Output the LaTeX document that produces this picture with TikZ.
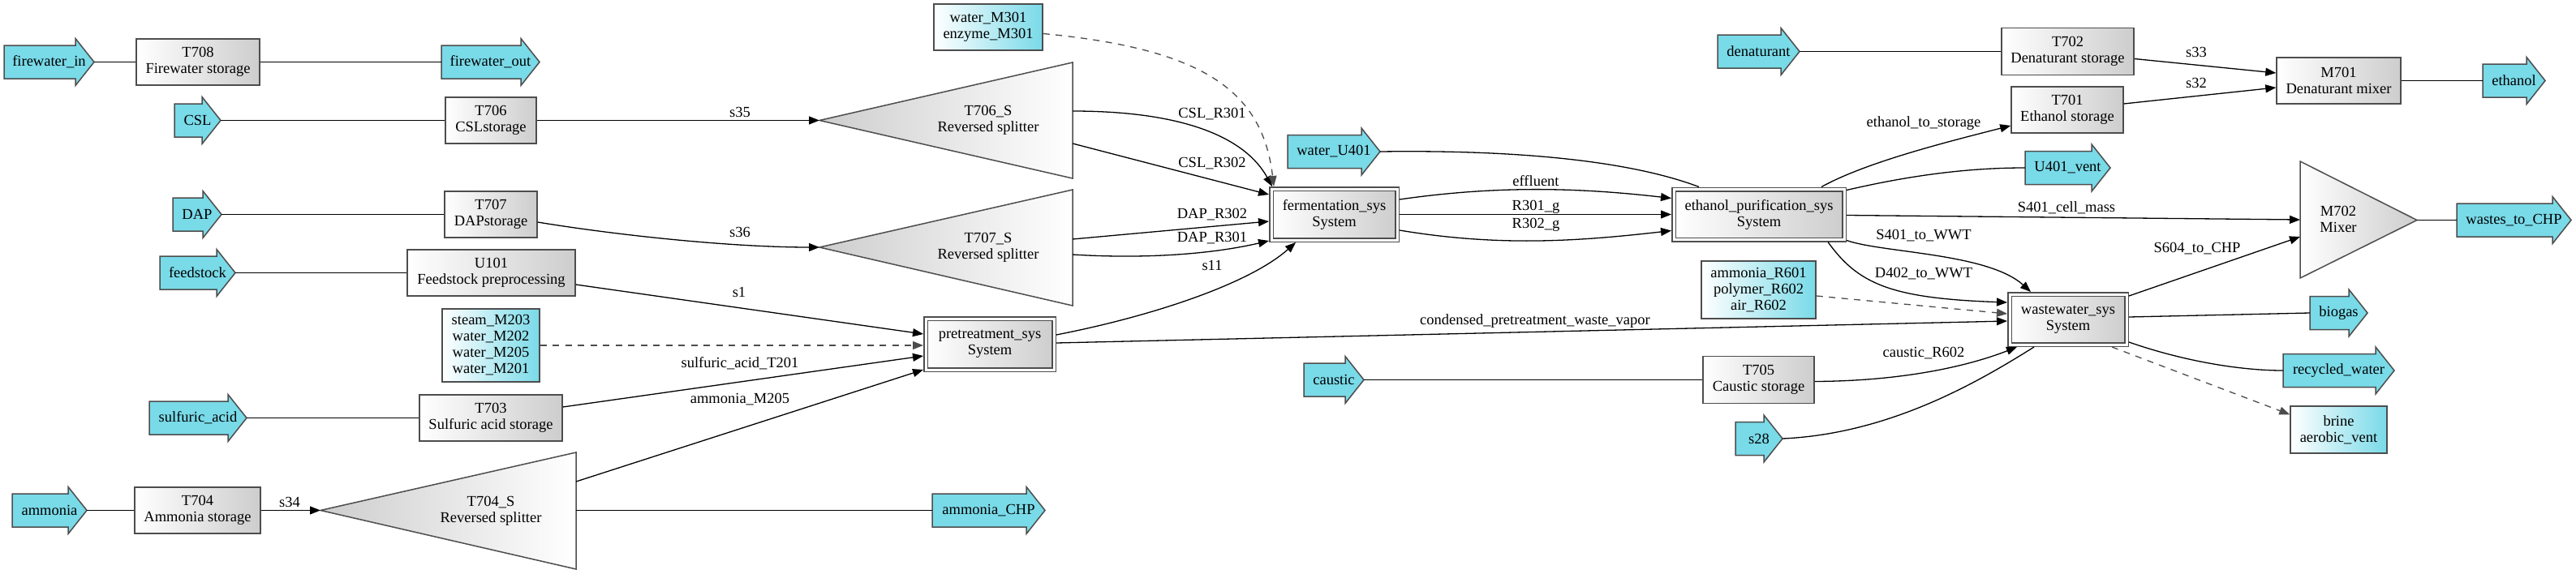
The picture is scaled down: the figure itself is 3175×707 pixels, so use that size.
\documentclass[tikz,border=0pt]{standalone}
\usepackage{fontspec}
\setmainfont{Liberation Serif}
\usetikzlibrary{arrows.meta,calc}
\definecolor{ugray}{HTML}{CDCDCD}
\definecolor{scyan}{HTML}{79DAE8}
\definecolor{bord}{HTML}{4D4D4D}
\newcommand\fsz{\fontsize{18.5pt}{20pt}\selectfont}
% name, x-left, x-tip, y-center, text
\newcommand\feedarr[5]{%
  \draw[arrsty] (#2,#4-20.5) -- ({#3-23},#4-20.5) -- ({#3-23},#4-29) -- (#3,#4)
    -- ({#3-23},#4+29) -- ({#3-23},#4+20.5) -- (#2,#4+20.5) -- cycle;
  \node[lbl, inner sep=0pt, minimum width={(#3-(#2))*1pt}, minimum height=41pt] (#1) at ({(#2+#3)/2},#4) {#5};
}
\begin{document}
\begin{tikzpicture}[x=1pt,y=-1pt,
  lbl/.style={font=\fsz, align=center, inner sep=1pt},
  unit/.style={rectangle, draw=bord, line width=1.5pt, left color=white, right color=ugray, align=center, inner sep=0pt, font=\fsz, minimum height=57pt},
  sysbox/.style={rectangle, draw=bord, line width=1.5pt, double=white, double distance=3pt, left color=white, right color=ugray, align=center, inner sep=0pt, font=\fsz, outer sep=3pt},
  cbox/.style={rectangle, draw=bord, line width=1.5pt, left color=white, right color=scyan, align=center, inner sep=0pt, font=\fsz},
  arrsty/.style={draw=bord, line width=1.5pt, fill=scyan, line join=miter},
  tri/.style={draw=bord, line width=1.5pt},
  flow/.style={line width=1.3pt, draw=black},
  ahead/.style={-{Triangle[length=13pt,width=10pt]}},
  dsh/.style={dash pattern=on 8pt off 7.5pt, draw=black!70},
]
\useasboundingbox[fill=white] (0,0) rectangle (3175,707);

% ---------- feed / product arrows ----------
\feedarr{fwin}{5}{116}{76.5}{firewater\_in}
\feedarr{fwout}{544}{665}{76.5}{firewater\_out}
\feedarr{csl}{215}{272}{148.5}{CSL}
\feedarr{dap}{213}{273}{264.5}{DAP}
\feedarr{feed}{197}{290}{336.5}{feedstock}
\feedarr{sulf}{184}{304}{515.5}{sulfuric\_acid}
\feedarr{amm}{15}{107}{629.5}{ammonia}
\feedarr{ammchp}{1149}{1288}{629.5}{ammonia\_CHP}
\feedarr{wu401}{1587}{1701}{187}{water\_U401}
\feedarr{denat}{2117}{2218}{63.5}{denaturant}
\feedarr{caustic}{1607}{1681}{468.5}{caustic}
\feedarr{s28}{2139}{2197}{541}{s28}
\feedarr{u401v}{2496}{2601}{207}{U401\_vent}
\feedarr{ethanol}{3060}{3137}{99.5}{ethanol}
\feedarr{wtc}{3028}{3169}{271.5}{wastes\_to\_CHP}
\feedarr{biogas}{2847}{2918}{386}{biogas}
\feedarr{recw}{2814}{2951}{457}{recycled\_water}

% ---------- unit boxes ----------
\node[unit, minimum width=152pt] (T708) at (244,76.5) {T708\\Firewater storage};
\node[unit, minimum width=112pt] (T706) at (605,148.5) {T706\\CSLstorage};
\node[unit, minimum width=114pt] (T707) at (605,264.5) {T707\\DAPstorage};
\node[unit, minimum width=207pt] (U101) at (605.5,336.5) {U101\\Feedstock preprocessing};
\node[unit, minimum width=176pt] (T703) at (605,515.5) {T703\\Sulfuric acid storage};
\node[unit, minimum width=155pt] (T704) at (243.5,629.5) {T704\\Ammonia storage};
\node[unit, minimum width=163pt, minimum height=58pt] (T702) at (2548.5,63.5) {T702\\Denaturant storage};
\node[unit, minimum width=138pt] (T701) at (2548,135.5) {T701\\Ethanol storage};
\node[unit, minimum width=153pt] (M701) at (2882.5,99.5) {M701\\Denaturant mixer};
\node[unit, minimum width=137pt, minimum height=58pt] (T705) at (2167.5,468.5) {T705\\Caustic storage};

% ---------- cyan stream boxes ----------
\node[cbox, minimum width=120pt, minimum height=90pt] (steam) at (605,426) {steam\_M203\\water\_M202\\water\_M205\\water\_M201};
\node[cbox, minimum width=134pt, minimum height=57pt] (wm301) at (1218,33.5) {water\_M301\\enzyme\_M301};
\node[cbox, minimum width=141pt, minimum height=71pt] (ar601) at (2167.5,357.5) {ammonia\_R601\\polymer\_R602\\air\_R602};
\node[cbox, minimum width=119pt, minimum height=58pt] (brine) at (2882.5,530) {brine\\aerobic\_vent};

% ---------- systems ----------
\node[sysbox, minimum width=158pt, minimum height=63pt] (pretreat) at (1220,424.5) {pretreatment\_sys\\System};
\node[sysbox, minimum width=155pt, minimum height=63pt] (ferm) at (1644.5,264.5) {fermentation\_sys\\System};
\node[sysbox, minimum width=210pt, minimum height=62pt] (ethpur) at (2168,264.5) {ethanol\_purification\_sys\\System};
\node[sysbox, minimum width=144pt, minimum height=62pt] (wwt) at (2549,394) {wastewater\_sys\\System};

% ---------- triangles ----------
\draw[tri, left color=ugray, right color=white] (1010,148.5) -- (1322,77) -- (1322,220) -- cycle;
\node[lbl] (t706s) at (1218,148) {T706\_S\\Reversed splitter};
\coordinate (t706s-in) at (1010,148.5);
\coordinate (t706s-o1) at (1322,137);
\coordinate (t706s-o2) at (1322,177);

\draw[tri, left color=ugray, right color=white] (1010,305) -- (1322,234) -- (1322,377) -- cycle;
\node[lbl] (t707s) at (1218,305) {T707\_S\\Reversed splitter};
\coordinate (t707s-in) at (1010,305);
\coordinate (t707s-o1) at (1322,295);
\coordinate (t707s-o2) at (1322,314);

\draw[tri, left color=ugray, right color=white] (395,629.5) -- (710,558) -- (710,702) -- cycle;
\node[lbl] (t704s) at (605,630) {T704\_S\\Reversed splitter};
\coordinate (t704s-in) at (395,629.5);
\coordinate (t704s-o1) at (710,594);
\coordinate (t704s-o2) at (710,629.5);

\draw[tri, left color=white, right color=ugray] (2835,199) -- (2979,271.5) -- (2835,343) -- cycle;
\node[lbl] (m702) at (2882,270) {M702\\Mixer};
\coordinate (m702-i1) at (2835,271);
\coordinate (m702-i2) at (2835,292);
\coordinate (m702-out) at (2979,271.5);

% ---------- connectors ----------
\draw[flow] (fwin.east) -- (T708.west);
\draw[flow] (T708.east) -- (fwout.west);
\draw[flow] (csl.east) -- (T706.west);
\draw[flow,ahead] (T706.east) -- (t706s-in);
\draw[flow] (dap.east) -- (T707.west);
\draw[flow,ahead] ($(T707.east)+(0,9.5)$) .. controls (760,290) and (900,305) .. (t707s-in);
\draw[flow] (feed.east) -- (U101.west);
\draw[flow,ahead] ($(U101.east)+(0,14.5)$) -- ($(pretreat.west)+(0,-12.5)$);
\draw[flow,dsh,ahead] (steam.east) -- ($(pretreat.west)+(0,1.5)$);
\draw[flow] (sulf.east) -- (T703.west);
\draw[flow,ahead] ($(T703.east)+(0,-13.5)$) -- ($(pretreat.west)+(0,14.5)$);
\draw[flow] (amm.east) -- (T704.west);
\draw[flow,ahead] (T704.east) -- (t704s-in);
\draw[flow,ahead] (t704s-o1) -- ($(pretreat.south west)+(0,-3)$);
\draw[flow] (t704s-o2) -- (ammchp.west);

\draw[flow,ahead] (t706s-o1) .. controls (1460,137) and (1535,170) .. ($(ferm.north west)+(4,0)$);
\draw[flow,ahead] (t706s-o2) -- ($(ferm.west)+(0,-24.5)$);
\draw[flow,ahead] (t707s-o1) -- ($(ferm.west)+(0,8.5)$);
\draw[flow,ahead] (t707s-o2) .. controls (1420,320) and (1500,312) .. ($(ferm.south west)+(0,-2)$);
\draw[flow,ahead] ($(pretreat.east)+(0,-11.5)$) .. controls (1420,390) and (1540,350) .. ($(ferm.south west)+(33,0)$);
\draw[flow,dsh,ahead] ($(wm301.east)+(0,8)$) .. controls (1480,60) and (1556,110) .. ($(ferm.north west)+(6,0)$);

\draw[flow,ahead] ($(pretreat.east)+(0,-1.5)$) -- ($(wwt.west)+(0,2)$);

\draw[flow] (wu401.east) .. controls (1850,185) and (2000,195) .. ($(ethpur.north west)+(34,0)$);
\draw[flow,ahead] ($(ferm.east)+(0,-18.5)$) .. controls (1850,228) and (1950,232) .. ($(ethpur.west)+(0,-20)$);
\draw[flow,ahead] (ferm.east) -- (ethpur.west);
\draw[flow,ahead] ($(ferm.east)+(0,19.5)$) .. controls (1850,305) and (1950,297) .. ($(ethpur.west)+(0,20)$);

\draw[flow] (denat.east) -- (T702.west);
\draw[flow,ahead] ($(T702.east)+(0,9)$) -- ($(M701.west)+(0,-9.5)$);
\draw[flow,ahead] ($(T701.east)+(0,-7.5)$) -- ($(M701.west)+(0,8.5)$);
\draw[flow] (M701.east) -- (ethanol.west);

\draw[flow,ahead] ($(ethpur.north east)+(-31,0)$) .. controls (2300,200) and (2400,175) .. ($(T701.west)+(0,19.5)$);
\draw[flow] ($(ethpur.north east)+(0,4)$) .. controls (2360,215) and (2430,207) .. (u401v.west);
\draw[flow,ahead] ($(ethpur.east)+(0,1)$) -- (m702-i1);
\draw[flow,ahead] ($(ethpur.south east)+(0,-2)$) .. controls (2320,312) and (2450,312) .. ($(wwt.north)+(-46,0)$);
\draw[flow,ahead] ($(ethpur.south east)+(-23,0)$) .. controls (2290,350) and (2330,368) .. ($(wwt.west)+(0,-21)$);
\draw[flow,dsh,ahead] ($(ar601.east)+(0,7.5)$) -- ($(wwt.west)+(0,-7)$);
\draw[flow] (caustic.east) -- (T705.west);
\draw[flow,ahead] ($(T705.east)+(0,2)$) .. controls (2350,470) and (2430,450) .. ($(wwt.south west)+(12,0)$);
\draw[flow] (s28.east) .. controls (2330,535) and (2440,470) .. ($(wwt.south west)+(33,0)$);

\draw[flow,ahead] ($(wwt.east)+(0,-29)$) -- (m702-i2);
\draw[flow] ($(wwt.east)+(0,-3)$) -- (biogas.west);
\draw[flow] ($(wwt.east)+(0,28)$) .. controls (2690,445) and (2760,457) .. (recw.west);
\draw[flow,dsh,ahead] ($(wwt.south east)+(-21,0)$) -- ($(brine.north west)+(0,11)$);
\draw[flow] (m702-out) -- (wtc.west);

% ---------- connector labels ----------
\node[lbl] (l-s35) at (912,138) {s35};
\node[lbl] (l-s36) at (912,286) {s36};
\node[lbl] (l-s1) at (911,360) {s1};
\node[lbl] (l-sat201) at (912,448) {sulfuric\_acid\_T201};
\node[lbl] (l-am205) at (912,493) {ammonia\_M205};
\node[lbl] (l-s34) at (357,619) {s34};
\node[lbl] (l-cslr301) at (1494,141) {CSL\_R301};
\node[lbl] (l-cslr302) at (1494,202) {CSL\_R302};
\node[lbl] (l-dapr302) at (1494,265) {DAP\_R302};
\node[lbl] (l-dapr301) at (1494,294) {DAP\_R301};
\node[lbl] (l-s11) at (1494,327) {s11};
\node[lbl] (l-eff) at (1893,223) {effluent};
\node[lbl] (l-r301g) at (1893,255) {R301\_g};
\node[lbl] (l-r302g) at (1893,277) {R302\_g};
\node[lbl] (l-cond) at (1892,396) {condensed\_pretreatment\_waste\_vapor};
\node[lbl] (l-ets) at (2371,152) {ethanol\_to\_storage};
\node[lbl] (l-s401cm) at (2547,256) {S401\_cell\_mass};
\node[lbl] (l-s401w) at (2371,291) {S401\_to\_WWT};
\node[lbl] (l-d402w) at (2371,338) {D402\_to\_WWT};
\node[lbl] (l-cr602) at (2371,436) {caustic\_R602};
\node[lbl] (l-s33) at (2707,64) {s33};
\node[lbl] (l-s32) at (2707,102) {s32};
\node[lbl] (l-s604) at (2708,307) {S604\_to\_CHP};
\end{tikzpicture}
\end{document}
